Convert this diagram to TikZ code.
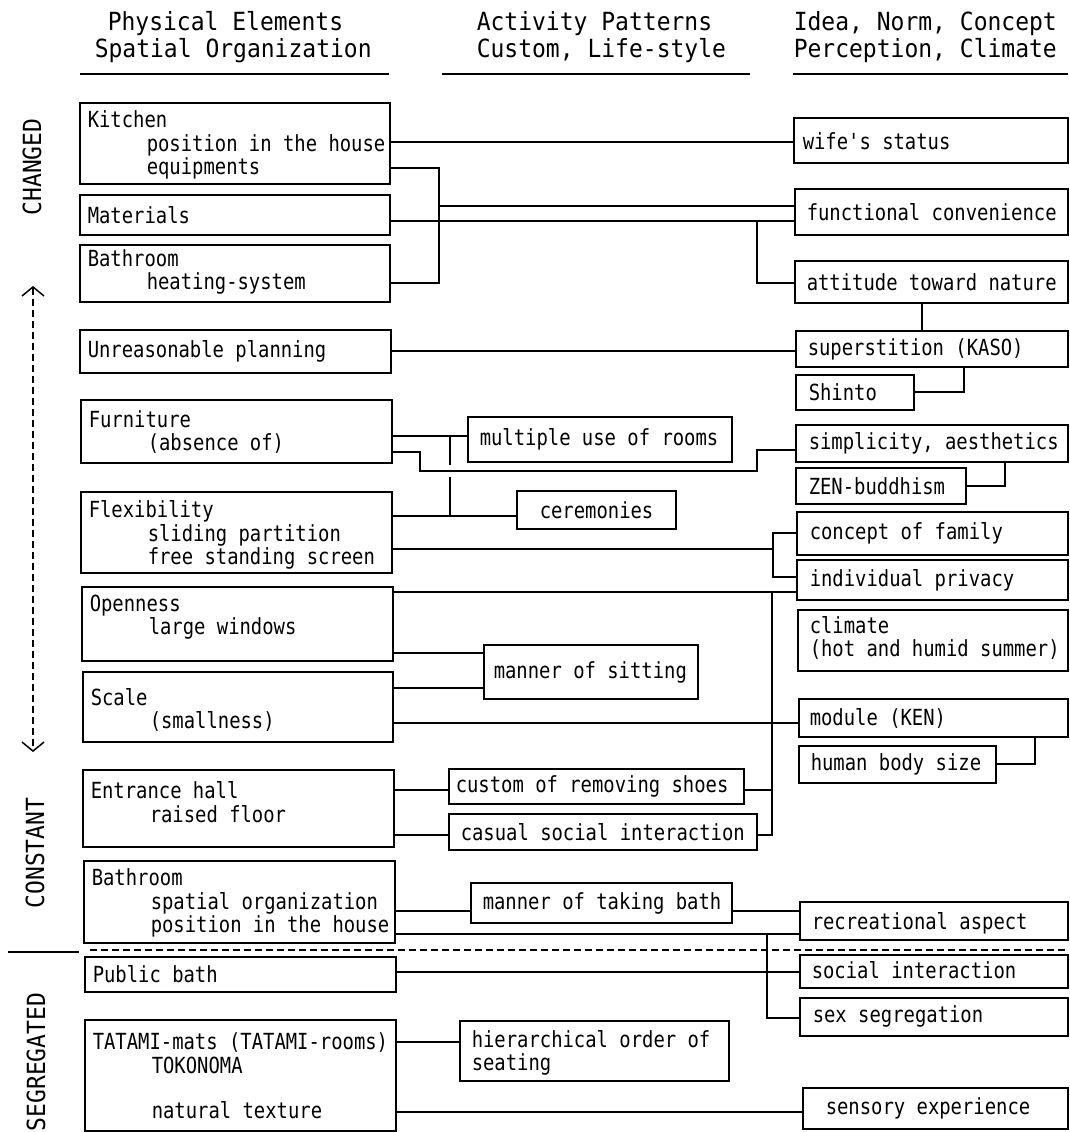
\documentclass[tikz,border=0pt]{standalone}
\usepackage{fontspec}
\newfontfamily\hfont[FakeStretch=0.92,Ligatures=TeXOff]{DejaVu Sans Mono}
\newfontfamily\bfont[FakeStretch=0.85,Ligatures=TeXOff]{DejaVu Sans Mono}
\usetikzlibrary{arrows.meta}
\newcommand\indt{\hspace*{59pt}}
\newcommand\diabox[8]{%
  \pgfmathsetmacro\bxw{#4-#2}\pgfmathsetmacro\bxh{#5-#3}%
  \node[bx, minimum width=\bxw pt, minimum height=\bxh pt] (#1) at ({(#2+#4)/2},{(#3+#5)/2}) {};%
  \node[btxt] (#1-t) at (#6,#7) {#8};}
\tikzset{
  bx/.style={draw, rectangle, line width=1.6pt, inner sep=0pt},
  btxt/.style={anchor=west, inner sep=0pt, align=left, font=\bfont\fontsize{22.2}{23.5}\selectfont},
  htxt/.style={anchor=west, inner sep=0pt, font=\hfont\fontsize{25}{28}\selectfont},
  sidelbl/.style={rotate=90, inner sep=0pt, font=\hfont\fontsize{25}{28}\selectfont},
  dsh/.style={dash pattern=on 7pt off 4pt},
}
\begin{document}
\begin{tikzpicture}[x=1pt,y=-1pt,line width=1.5pt]
\useasboundingbox (0,0) rectangle (1070,1132);
% headers
\node[htxt] (h1a) at (107,24) {Physical Elements};
\node[htxt] (h1b) at (94,51) {Spatial Organization};
\node[htxt] (h2a) at (476,24) {Activity Patterns};
\node[htxt] (h2b) at (476,51) {Custom, Life-style};
\node[htxt] (h3a) at (793,24) {Idea, Norm, Concept};
\node[htxt] (h3b) at (793,51) {Perception, Climate};
\draw (80,74) -- (389,74);
\draw (442,74) -- (750,74);
\draw (793,74) -- (1068,74);
% side labels
\node[sidelbl] (lc) at (32,167) {CHANGED};
\node[sidelbl] (lk) at (35,853) {CONSTANT};
\node[sidelbl] (ls) at (36,1062) {SEGREGATED};
\coordinate (arT) at (33,286);
\coordinate (arB) at (33,752);
\draw[dsh, {Straight Barb[length=9pt,width=22pt]}-{Straight Barb[length=9pt,width=22pt]}] (arT) -- (arB);
% left column
\diabox{kit}{80}{103}{390}{184}{87}{145}{Kitchen\\\indt position in the house\\\indt equipments}
\diabox{mat}{80}{195}{390}{235}{87}{215}{Materials}
\diabox{batha}{80}{245}{390}{302}{87}{272}{Bathroom\\\indt heating-system}
\diabox{plan}{80}{330}{391}{373}{87}{351.5}{Unreasonable planning}
\diabox{furn}{81}{400}{392}{463}{88}{432}{Furniture\\\indt (absence of)}
\diabox{flex}{81}{492}{392}{573}{88}{535}{Flexibility\\\indt sliding partition\\\indt free standing screen}
\diabox{open}{82}{587}{393}{661}{89}{617}{Openness\\\indt large windows}
\diabox{scl}{83}{672}{393}{742}{90}{710}{Scale\\\indt (smallness)}
\diabox{ent}{83}{770}{394}{847}{90}{802}{Entrance hall\\\indt raised floor}
\diabox{bathb}{84}{861}{395}{943}{91}{903}{Bathroom\\\indt spatial organization\\\indt position in the house}
\diabox{pub}{85}{957}{396}{992}{92}{974.5}{Public bath}
\diabox{tat}{85}{1020}{396}{1131}{92}{1076}{TATAMI-mats (TATAMI-rooms)\\\indt TOKONOMA\\[22pt]\indt natural texture}
% middle column
\diabox{multi}{468}{417}{732}{462}{479}{439.5}{multiple use of rooms}
\diabox{cer}{517}{491}{676}{529}{539}{510}{ceremonies}
\diabox{sit}{484}{645}{698}{699}{493}{672}{manner of sitting}
\diabox{shoes}{449}{769}{744}{804}{455}{786.5}{custom of removing shoes}
\diabox{casual}{449}{814}{757}{850}{460}{832}{casual social interaction}
\diabox{tbath}{471}{883}{732}{923}{482}{903}{manner of taking bath}
\diabox{hier}{460}{1021}{729}{1081}{471}{1053}{hierarchical order of\\seating}
% right column
\diabox{wife}{794}{118}{1068}{163}{802}{141}{wife's status}
\diabox{func}{795}{189}{1068}{235}{806}{212}{functional convenience}
\diabox{att}{795}{261}{1068}{303}{806}{282}{attitude toward nature}
\diabox{sup}{796}{331}{1068}{367}{807}{349}{superstition (KASO)}
\diabox{shin}{796}{375}{914}{410}{808}{392.5}{Shinto}
\diabox{simp}{796}{425}{1068}{462}{808}{443.5}{simplicity, aesthetics}
\diabox{zen}{796}{468}{966}{504}{808}{486}{ZEN-buddhism}
\diabox{fam}{797}{512}{1068}{555}{809}{533.5}{concept of family}
\diabox{priv}{797}{560}{1068}{600}{809}{580}{individual privacy}
\diabox{clim}{798}{610}{1068}{671}{809}{638}{climate\\(hot and humid summer)}
\diabox{mod}{799}{699}{1068}{737}{809}{718}{module (KEN)}
\diabox{body}{799}{746}{996}{783}{810}{764.5}{human body size}
\diabox{recr}{800}{902}{1068}{940}{811}{923}{recreational aspect}
\diabox{soc}{800}{955}{1068}{988}{811}{970}{social interaction}
\diabox{sex}{800}{998}{1068}{1036}{812}{1016}{sex segregation}
\diabox{sens}{803}{1088}{1068}{1129}{825}{1108}{sensory experience}
% connectors
\draw (kit.east |- 0,142) -- (wife.west |- 0,142);
\draw (kit.east |- 0,168) -| (439,283) -- (batha.east |- 0,283);
\draw (439,206) -- (func.west |- 0,206);
\draw (mat.east |- 0,221) -- (func.west |- 0,221);
\draw (757,221) |- (att.west |- 0,283);
\draw (att.south -| 922,0) -- (sup.north -| 922,0);
\draw (plan.east |- 0,351) -- (sup.west |- 0,351);
\draw (sup.south -| 964,0) |- (shin.east |- 0,392);
\draw (simp.south -| 1005,0) |- (zen.east |- 0,486);
\draw (furn.east |- 0,436) -- (multi.west |- 0,436);
\draw (furn.east |- 0,452) -| (420,471) -| (757,450) -- (simp.west |- 0,450);
\draw (450,436) -- (450,465);
\draw (450,477) -- (450,516);
\draw (flex.east |- 0,516) -- (cer.west |- 0,516);
\draw (flex.east |- 0,549) -- (773,549);
\draw (fam.west |- 0,533) -| (773,577) -- (priv.west |- 0,577);
\draw (open.east |- 0,592) -- (priv.west |- 0,592);
\draw (772,592) |- (casual.east |- 0,835);
\draw (shoes.east |- 0,790) -- (772,790);
\draw (open.east |- 0,653) -- (sit.west |- 0,653);
\draw (scl.east |- 0,688) -- (sit.west |- 0,688);
\draw (scl.east |- 0,723) -- (mod.west |- 0,723);
\draw (mod.south -| 1035,0) |- (body.east |- 0,764);
\draw (ent.east |- 0,790) -- (shoes.west |- 0,790);
\draw (ent.east |- 0,835) -- (casual.west |- 0,835);
\draw (bathb.east |- 0,911) -- (tbath.west |- 0,911);
\draw (tbath.east |- 0,911) -- (recr.west |- 0,911);
\draw (bathb.east |- 0,934) -- (recr.west |- 0,934);
\draw (767,934) |- (sex.west |- 0,1018);
\draw (pub.east |- 0,972) -- (soc.west |- 0,972);
\draw (tat.east |- 0,1042) -- (hier.west |- 0,1042);
\draw (tat.east |- 0,1112) -- (sens.west |- 0,1112);
% separators
\coordinate (sepL) at (90,950);
\coordinate (sepR) at (1068,950);
\draw[dsh] (sepL) -- (sepR);
\draw (8,952) -- (79,952);
\end{tikzpicture}
\end{document}
